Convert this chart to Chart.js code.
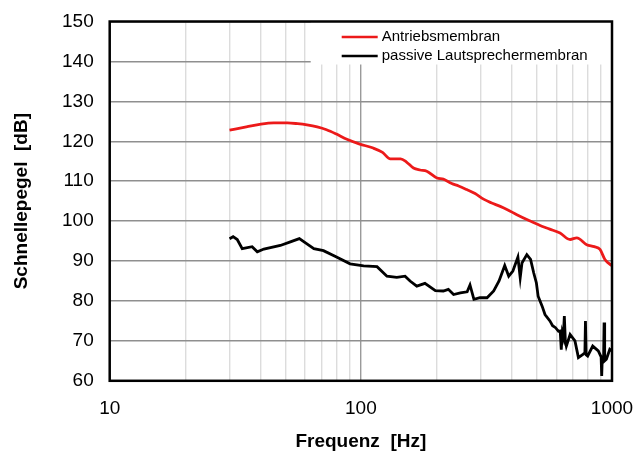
<!DOCTYPE html>
<html>
<head>
<meta charset="utf-8">
<script src="https://cdn.jsdelivr.net/npm/chart.js@4"></script>
<style>
    html, body { margin: 0; padding: 0; background: #fff; }
    #wrap { width: 637px; height: 455px; }
</style>
</head>
<body>
<div id="wrap"><canvas id="chart" width="637" height="455"></canvas></div>
<script>
// ==========================================
// DATA
// ==========================================
const redLabel = 'Antriebsmembran';
const redFreq = [30, 35, 40, 45, 51, 56, 61, 67, 73, 80, 88, 99, 112, 122, 131, 144, 152, 162, 172, 183,
    201, 213, 230, 245, 264, 285, 308, 330, 359, 385, 418, 465, 517, 565, 621, 681, 724, 793, 850, 896, 937, 1000];
const redLevel = [122.8, 123.6, 124.3, 124.6, 124.6, 124.4, 124.1, 123.6, 122.9, 121.8, 120.5, 119.3, 118.3, 117.2,
    115.6, 115.6, 114.8, 113.3, 112.8, 112.5, 110.8, 110.5, 109.4, 108.8, 107.9, 106.9, 105.5, 104.6, 103.7, 102.8,
    101.6, 100.2, 98.9, 98.0, 97.0, 95.4, 95.8, 94.1, 93.6, 92.9, 90.4, 88.8];

const blackLabel = 'passive Lautsprechermembran';
const blackFreq = [30, 31, 32.2, 33.7, 36.9, 38.7, 41.1, 47.8, 52.4, 56.9, 61, 65, 71, 80, 90.6, 102.6, 116, 127,
    139, 150, 157, 167, 180, 198, 213, 223, 234, 249, 265, 272, 282, 298, 318, 338, 355, 374, 388, 403, 422, 431,
    438, 458, 474, 488, 500, 508, 517, 527, 541, 566, 580, 596, 612, 622, 628, 634, 640, 646, 652, 658, 681, 712,
    735, 766, 780, 784, 789, 800, 838, 882, 905, 910, 915, 926, 930, 935, 950, 980, 1000];
const blackLevel = [95.6, 96.1, 95.4, 93.1, 93.6, 92.3, 93.0, 93.9, 94.8, 95.6, 94.3, 93.1, 92.6, 91.0, 89.3, 88.8,
    88.6, 86.2, 85.9, 86.2, 85.0, 83.7, 84.4, 82.6, 82.5, 82.9, 81.6, 82.0, 82.3, 84.0, 80.4, 80.8, 80.8, 82.5, 85.0,
    88.9, 86.2, 87.5, 91.0, 85.8, 89.5, 91.6, 90.4, 87.0, 84.5, 81.2, 80.0, 78.7, 76.6, 75.0, 73.8, 73.3, 72.4, 72.5,
    67.8, 72.0, 71.0, 76.2, 70.0, 68.7, 71.6, 70.0, 65.8, 66.6, 67.0, 75.0, 66.5, 66.2, 68.7, 67.5, 66.0, 61.2, 66.0,
    66.0, 74.6, 65.0, 65.4, 67.9, 67.5];

// x grid (log decades) and the ones that get a label
const xGridValues = [10, 20, 30, 40, 50, 60, 70, 80, 90, 100, 200, 300, 400, 500, 600, 700, 800, 900, 1000];
const xLabelValues = [10, 100, 1000];

const FONT = 'Liberation Sans, Arial, sans-serif';

const toPoints = (xs, ys) => xs.map((x, i) => ({ x: x, y: ys[i] }));

// ==========================================
// PLUGINS: frame + in-plot legend
// ==========================================
const legendBox = {
    id: 'legendBox',
    beforeDatasetsDraw(chart) {
        const { ctx, chartArea: a } = chart;
        const boxLeft = a.left + 201;
        const boxBottom = a.top + 43;
        ctx.save();
        ctx.fillStyle = '#fff';
        ctx.fillRect(boxLeft, a.top, a.right - boxLeft, boxBottom - a.top);

        ctx.font = '15px ' + FONT;
        ctx.textBaseline = 'middle';
        chart.data.datasets.forEach((ds, i) => {
            const y = a.top + 15.5 + i * 19;
            ctx.strokeStyle = ds.borderColor;
            ctx.lineWidth = 2.5;
            ctx.beginPath();
            ctx.moveTo(a.left + 232, y);
            ctx.lineTo(a.left + 268, y);
            ctx.stroke();
            ctx.fillStyle = '#000';
            ctx.fillText(ds.label, a.left + 272, y);
        });
        ctx.restore();
    },
    afterDatasetsDraw(chart) {
        const { ctx, chartArea: a } = chart;
        ctx.save();
        ctx.strokeStyle = '#000';
        ctx.lineWidth = 2.5;
        ctx.strokeRect(a.left, a.top, a.right - a.left, a.bottom - a.top);
        ctx.restore();
    }
};

// ==========================================
// CHART
// ==========================================
const ctx = document.getElementById('chart').getContext('2d');

new Chart(ctx, {
    type: 'line',
    data: {
        datasets: [
            {
                label: redLabel,
                data: toPoints(redFreq, redLevel),
                borderColor: '#ec1a1a',
                borderWidth: 2.8,
                pointRadius: 0,
                cubicInterpolationMode: 'monotone'
            },
            {
                label: blackLabel,
                data: toPoints(blackFreq, blackLevel),
                borderColor: '#000000',
                borderWidth: 2.8,
                pointRadius: 0,
                tension: 0
            }
        ]
    },
    options: {
        responsive: false,
        animation: false,
        layout: { padding: { top: 21.5, right: 25, bottom: 0, left: 0 } },
        plugins: {
            legend: { display: false },
            tooltip: { enabled: false }
        },
        scales: {
            x: {
                type: 'logarithmic',
                min: 10,
                max: 1000,
                afterBuildTicks: (scale) => {
                    scale.ticks = xGridValues.map(v => ({ value: v, major: xLabelValues.includes(v) }));
                },
                // let the layout padding alone decide the plot edges
                afterFit: (scale) => { scale.paddingLeft = 0; scale.paddingRight = 0; },
                ticks: {
                    autoSkip: false,
                    maxRotation: 0,
                    padding: 16.5,
                    color: '#000',
                    font: { family: FONT, size: 19 },
                    callback: (value) => xLabelValues.includes(value) ? String(value) : ''
                },
                grid: {
                    drawTicks: false,
                    lineWidth: 1.4,
                    color: (c) => (c.tick && c.tick.value === 100) ? '#9a9a9a' : '#dcdcdc'
                },
                border: { display: false },
                title: {
                    display: true,
                    text: 'Frequenz  [Hz]',
                    color: '#000',
                    font: { family: FONT, size: 19, weight: 'bold' },
                    padding: { top: -6, bottom: 1.6 }
                }
            },
            y: {
                min: 60,
                max: 150,
                afterFit: (scale) => { scale.paddingTop = 0; scale.paddingBottom = 0; },
                ticks: {
                    stepSize: 10,
                    padding: 16,
                    color: '#000',
                    font: { family: FONT, size: 19 }
                },
                grid: {
                    drawTicks: false,
                    lineWidth: 1.4,
                    color: '#8f8f8f'
                },
                border: { display: false },
                title: {
                    display: true,
                    text: 'Schnellepegel  [dB]',
                    color: '#000',
                    font: { family: FONT, size: 19, weight: 'bold' },
                    padding: { top: 10.6, bottom: 12.6 }
                }
            }
        }
    },
    plugins: [legendBox]
});
</script>
</body>
</html>
